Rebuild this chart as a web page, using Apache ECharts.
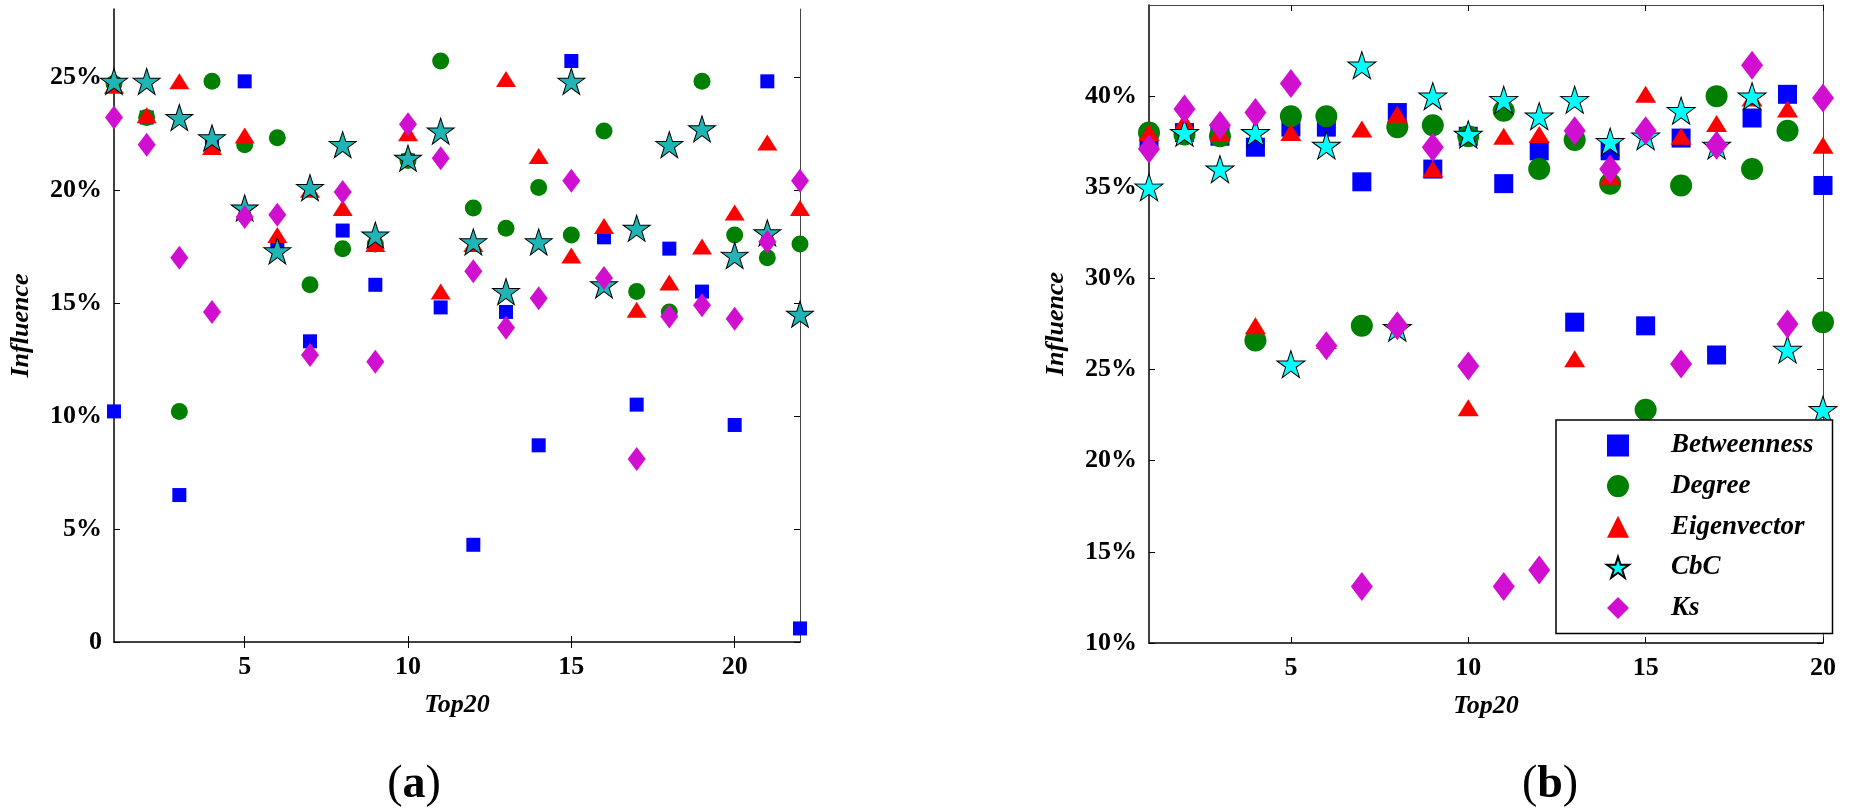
<!DOCTYPE html>
<html>
<head>
<meta charset="utf-8">
<title>Influence of Top20 nodes</title>
<script src="https://cdn.jsdelivr.net/npm/echarts@6/dist/echarts.min.js"></script>
<style>
  html, body { margin: 0; padding: 0; background: #fff; }
  #chart { width: 1858px; height: 808px; }
</style>
</head>
<body>
<div id="chart"></div>
<script>
// ----- data (values in %) -----
var names = ["Betweenness", "Degree", "Eigenvector", "CbC", "Ks"];

// panel (a): 22 ranks
var rankA = [1, 2, 3, 4, 5, 6, 7, 8, 9, 10, 11, 12, 13, 14, 15, 16, 17, 18, 19, 20, 21, 22];
var betweennessA = [10.2, 23.2, 6.5, 22.0, 24.8, 17.5, 13.3, 18.2, 15.8, 21.3, 14.8, 4.3, 14.6, 8.7, 25.7, 17.9, 10.5, 17.4, 15.5, 9.6, 24.8, 0.6];
var degreeA = [24.7, 23.2, 10.2, 24.8, 22.0, 22.3, 15.8, 17.4, 17.6, 21.3, 25.7, 19.2, 18.3, 20.1, 18.0, 22.6, 15.5, 14.6, 24.8, 18.0, 17.0, 17.6];
var eigenA = [24.6, 23.3, 24.8, 21.9, 22.4, 18.0, 20.0, 19.2, 17.6, 22.5, 15.5, 17.6, 24.9, 21.5, 17.1, 18.4, 14.7, 15.9, 17.5, 19.0, 22.1, 19.2];
var cbcA = [24.8, 24.8, 23.2, 22.3, 19.2, 17.3, 20.1, 22.0, 18.0, 21.4, 22.6, 17.7, 15.5, 17.7, 24.8, 15.8, 18.3, 22.0, 22.7, 17.1, 18.1, 14.5];
var ksA = [23.2, 22.0, 17.0, 14.6, 18.8, 18.9, 12.7, 19.9, 12.4, 22.9, 21.4, 16.4, 13.9, 15.2, 20.4, 16.1, 8.1, 14.4, 14.9, 14.3, 17.7, 20.4];

// panel (b): 20 ranks
var rankB = [1, 2, 3, 4, 5, 6, 7, 8, 9, 10, 11, 12, 13, 14, 15, 16, 17, 18, 19, 20];
var betweennessB = [37.6, 38.0, 37.8, 37.2, 38.3, 38.3, 35.3, 39.1, 36.0, 37.8, 35.2, 37.0, 27.6, 37.0, 27.4, 37.7, 25.8, 38.8, 40.1, 35.1];
var degreeB = [38.0, 37.9, 37.8, 26.6, 38.9, 38.9, 27.4, 38.3, 38.4, 37.8, 39.2, 36.0, 37.6, 35.2, 22.8, 35.1, 40.0, 36.0, 38.1, 27.6];
var eigenB = [38.0, 38.6, 38.0, 27.4, 38.0, 26.6, 38.2, 39.0, 36.0, 22.9, 37.8, 37.9, 25.6, 35.6, 40.1, 37.8, 38.5, 39.9, 39.3, 37.3];
var cbcB = [35.0, 38.0, 36.0, 38.0, 25.3, 37.3, 41.7, 27.3, 40.0, 37.9, 39.8, 38.9, 39.8, 37.5, 37.8, 39.2, 37.3, 40.0, 26.1, 22.8];
var ksB = [37.1, 39.3, 38.4, 39.1, 40.7, 26.3, 13.1, 27.4, 37.2, 25.2, 13.1, 14.0, 38.1, 36.0, 38.1, 25.3, 37.3, 41.7, 27.5, 39.9];

var ticksX = [5, 10, 15, 20];
var ticksYA = [0, 5, 10, 15, 20, 25];
var ticksYB = [10, 15, 20, 25, 30, 35, 40];

// ----- styling -----
var FONT = "Liberation Serif";
var STAR = "path://M50 0L61.17 34.63L97.55 34.55L68.07 55.87L79.39 90.45L50 69L20.61 90.45L31.93 55.87L2.45 34.55L38.83 34.63Z";
var labelStyle = { fontFamily: FONT, fontSize: 26, fontWeight: "bold", color: "#000" };
var nameStyle = { fontFamily: FONT, fontSize: 26, fontWeight: "bold", fontStyle: "italic", color: "#000" };

function pairs(xs, ys) {
  return xs.map(function (x, i) { return [x, ys[i]]; });
}

function pct(v) {
  return v === 0 ? "0" : v + "%";
}

// bottom/left axis with labels, top/right mirror with ticks only
function xAxes(grid, max) {
  return [
    {
      gridIndex: grid, type: "value", min: 1, max: max, position: "bottom",
      splitLine: { show: false },
      axisLine: { lineStyle: { color: "#000", width: 1.5 } },
      axisTick: { inside: true, length: 6, customValues: ticksX, lineStyle: { color: "#000" } },
      axisLabel: Object.assign({ customValues: ticksX, margin: 12 }, labelStyle),
      name: "Top20", nameLocation: "middle", nameGap: 50, nameTextStyle: nameStyle
    },
    {
      gridIndex: grid, type: "value", min: 1, max: max, position: "top",
      splitLine: { show: false },
      axisLine: { lineStyle: { color: "#444", width: 1 } },
      axisTick: { inside: true, length: 6, customValues: ticksX, lineStyle: { color: "#000" } },
      axisLabel: { show: false }
    }
  ];
}

function yAxes(grid, min, max, ticks) {
  return [
    {
      gridIndex: grid, type: "value", min: min, max: max, position: "left",
      splitLine: { show: false },
      axisLine: { lineStyle: { color: "#000", width: 1.5 } },
      axisTick: { inside: true, length: 6, customValues: ticks, lineStyle: { color: "#000" } },
      axisLabel: Object.assign({ customValues: ticks, margin: 12, formatter: pct }, labelStyle),
      name: "Influence", nameLocation: "middle", nameGap: 80, nameTextStyle: nameStyle
    },
    {
      gridIndex: grid, type: "value", min: min, max: max, position: "right",
      splitLine: { show: false },
      axisLine: { lineStyle: { color: "#444", width: 1 } },
      axisTick: { inside: true, length: 6, customValues: ticks, lineStyle: { color: "#000" } },
      axisLabel: { show: false }
    }
  ];
}

function makeSeries(axisIdx, xs, cols, sizes, starColor) {
  var colors = ["#0000ff", "#007f00", "#ff0000", starColor, "#d10fd1"];
  var symbols = ["rect", "circle", "triangle", STAR, "diamond"];
  return cols.map(function (ys, i) {
    var s = {
      name: names[i],
      type: "scatter",
      xAxisIndex: axisIdx,
      yAxisIndex: axisIdx,
      clip: false,
      symbol: symbols[i],
      symbolSize: sizes[i],
      itemStyle: { color: colors[i], opacity: 1 },
      emphasis: { disabled: true },
      data: pairs(xs, ys)
    };
    if (i === 3) {
      s.itemStyle.borderColor = "#000";
      s.itemStyle.borderWidth = 1;
    }
    return s;
  });
}

var chart = echarts.init(document.getElementById("chart"));

// (b) first so the legend picks up its cyan star
var seriesB = makeSeries(2, rankB, [betweennessB, degreeB, eigenB, cbcB, ksB],
  [19, 22, [21, 17], [28, 27], [22, 29]], "#00ffff");
var seriesA = makeSeries(0, rankA, [betweennessA, degreeA, eigenA, cbcA, ksA],
  [14, 17, [20, 16], [27, 26], [18, 24]], "#1fb5b5");

var option = {
  animation: false,
  backgroundColor: "#fff",
  grid: [
    { left: 114, top: 9, width: 686, height: 633 },
    { left: 1149, top: 5, width: 674, height: 638 }
  ],
  xAxis: xAxes(0, 22).concat(xAxes(1, 20)),
  yAxis: yAxes(0, 0, 28, ticksYA).concat(yAxes(1, 10, 45, ticksYB)),
  legend: {
    data: names,
    orient: "vertical",
    left: 1556,
    top: 420,
    padding: [12, 19, 12, 50],
    itemWidth: 22,
    itemHeight: 22,
    itemGap: 13.6,
    borderColor: "#000",
    borderWidth: 1.5,
    backgroundColor: "#fff",
    selectedMode: false,
    textStyle: {
      fontFamily: FONT, fontSize: 27, fontWeight: "bold", fontStyle: "italic", color: "#000",
      padding: [0, 0, 0, 37]
    }
  },
  graphic: [
    {
      type: "text", x: 414, y: 785,
      style: {
        text: "{p|(}{b|a}{p|)}", align: "center", verticalAlign: "middle",
        rich: {
          p: { fontFamily: FONT, fontSize: 46, color: "#000" },
          b: { fontFamily: FONT, fontSize: 46, fontWeight: "bold", color: "#000" }
        }
      }
    },
    {
      type: "text", x: 1550, y: 785,
      style: {
        text: "{p|(}{b|b}{p|)}", align: "center", verticalAlign: "middle",
        rich: {
          p: { fontFamily: FONT, fontSize: 46, color: "#000" },
          b: { fontFamily: FONT, fontSize: 46, fontWeight: "bold", color: "#000" }
        }
      }
    }
  ],
  series: seriesB.concat(seriesA)
};

chart.setOption(option);
</script>
</body>
</html>
